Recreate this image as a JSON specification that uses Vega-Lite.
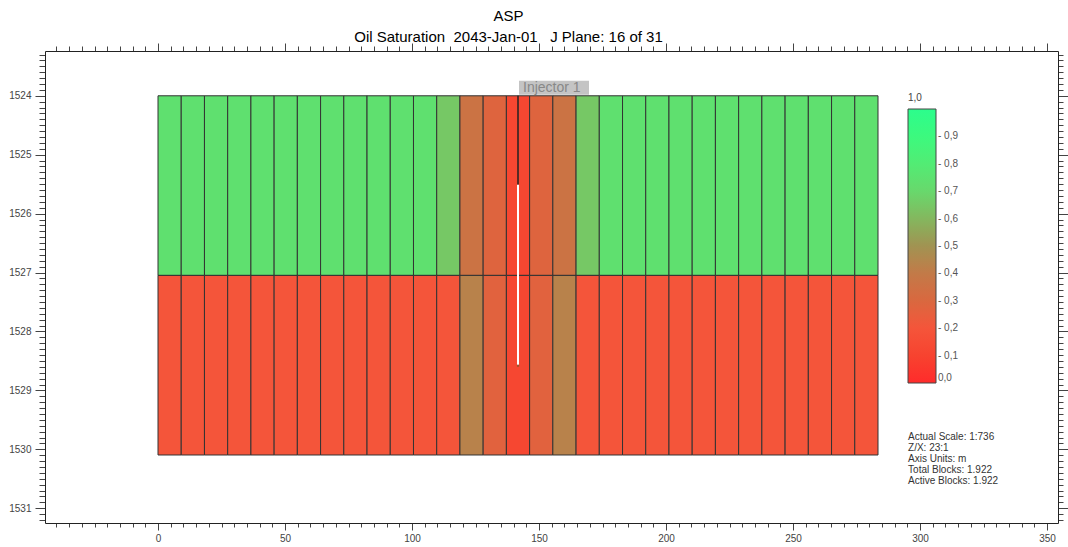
{
  "$schema": "https://vega.github.io/schema/vega-lite/v6.json",
  "autosize": "none",
  "width": 1013,
  "height": 472,
  "padding": {"left": 45, "top": 51, "right": 10, "bottom": 24},
  "background": "white",
  "config": {
    "font": "Liberation Sans",
    "view": {"stroke": null},
    "axis": {
      "labelFont": "Liberation Sans",
      "labelFontSize": 10,
      "labelColor": "#444",
      "tickColor": "#444",
      "domainColor": "#222",
      "grid": false,
      "title": null
    },
    "legend": {
      "labelFont": "Liberation Sans",
      "titleFont": "Liberation Sans"
    }
  },
  "title": {
    "text": "ASP",
    "subtitle": "Oil Saturation\u00a0 2043-Jan-01\u00a0\u00a0 J Plane: 16 of 31",
    "anchor": "middle",
    "frame": "group",
    "dx": -43,
    "offset": -2,
    "font": "Liberation Sans",
    "subtitleFont": "Liberation Sans",
    "fontSize": 15,
    "subtitleFontSize": 15,
    "fontWeight": "normal",
    "color": "#000",
    "subtitleColor": "#000",
    "subtitlePadding": 6
  },
  "datasets": {
    "cells": [
      {"col": 1, "x0": 0, "x1": 9.144, "z0": 1524, "z1": 1527.048, "so": 0.74},
      {"col": 2, "x0": 9.144, "x1": 18.288, "z0": 1524, "z1": 1527.048, "so": 0.74},
      {"col": 3, "x0": 18.288, "x1": 27.432, "z0": 1524, "z1": 1527.048, "so": 0.74},
      {"col": 4, "x0": 27.432, "x1": 36.576, "z0": 1524, "z1": 1527.048, "so": 0.74},
      {"col": 5, "x0": 36.576, "x1": 45.72, "z0": 1524, "z1": 1527.048, "so": 0.74},
      {"col": 6, "x0": 45.72, "x1": 54.864, "z0": 1524, "z1": 1527.048, "so": 0.74},
      {"col": 7, "x0": 54.864, "x1": 64.008, "z0": 1524, "z1": 1527.048, "so": 0.74},
      {"col": 8, "x0": 64.008, "x1": 73.152, "z0": 1524, "z1": 1527.048, "so": 0.74},
      {"col": 9, "x0": 73.152, "x1": 82.296, "z0": 1524, "z1": 1527.048, "so": 0.74},
      {"col": 10, "x0": 82.296, "x1": 91.44, "z0": 1524, "z1": 1527.048, "so": 0.74},
      {"col": 11, "x0": 91.44, "x1": 100.584, "z0": 1524, "z1": 1527.048, "so": 0.74},
      {"col": 12, "x0": 100.584, "x1": 109.728, "z0": 1524, "z1": 1527.048, "so": 0.74},
      {"col": 13, "x0": 109.728, "x1": 118.872, "z0": 1524, "z1": 1527.048, "so": 0.65},
      {"col": 14, "x0": 118.872, "x1": 128.016, "z0": 1524, "z1": 1527.048, "so": 0.36},
      {"col": 15, "x0": 128.016, "x1": 137.16, "z0": 1524, "z1": 1527.048, "so": 0.28},
      {"col": 16, "x0": 137.16, "x1": 146.304, "z0": 1524, "z1": 1527.048, "so": 0.12},
      {"col": 17, "x0": 146.304, "x1": 155.448, "z0": 1524, "z1": 1527.048, "so": 0.28},
      {"col": 18, "x0": 155.448, "x1": 164.592, "z0": 1524, "z1": 1527.048, "so": 0.36},
      {"col": 19, "x0": 164.592, "x1": 173.736, "z0": 1524, "z1": 1527.048, "so": 0.65},
      {"col": 20, "x0": 173.736, "x1": 182.88, "z0": 1524, "z1": 1527.048, "so": 0.74},
      {"col": 21, "x0": 182.88, "x1": 192.024, "z0": 1524, "z1": 1527.048, "so": 0.74},
      {"col": 22, "x0": 192.024, "x1": 201.168, "z0": 1524, "z1": 1527.048, "so": 0.74},
      {"col": 23, "x0": 201.168, "x1": 210.312, "z0": 1524, "z1": 1527.048, "so": 0.74},
      {"col": 24, "x0": 210.312, "x1": 219.456, "z0": 1524, "z1": 1527.048, "so": 0.74},
      {"col": 25, "x0": 219.456, "x1": 228.6, "z0": 1524, "z1": 1527.048, "so": 0.74},
      {"col": 26, "x0": 228.6, "x1": 237.744, "z0": 1524, "z1": 1527.048, "so": 0.74},
      {"col": 27, "x0": 237.744, "x1": 246.888, "z0": 1524, "z1": 1527.048, "so": 0.74},
      {"col": 28, "x0": 246.888, "x1": 256.032, "z0": 1524, "z1": 1527.048, "so": 0.74},
      {"col": 29, "x0": 256.032, "x1": 265.176, "z0": 1524, "z1": 1527.048, "so": 0.74},
      {"col": 30, "x0": 265.176, "x1": 274.32, "z0": 1524, "z1": 1527.048, "so": 0.74},
      {"col": 31, "x0": 274.32, "x1": 283.464, "z0": 1524, "z1": 1527.048, "so": 0.74},
      {"col": 1, "x0": 0, "x1": 9.144, "z0": 1527.048, "z1": 1530.096, "so": 0.2},
      {"col": 2, "x0": 9.144, "x1": 18.288, "z0": 1527.048, "z1": 1530.096, "so": 0.2},
      {"col": 3, "x0": 18.288, "x1": 27.432, "z0": 1527.048, "z1": 1530.096, "so": 0.2},
      {"col": 4, "x0": 27.432, "x1": 36.576, "z0": 1527.048, "z1": 1530.096, "so": 0.2},
      {"col": 5, "x0": 36.576, "x1": 45.72, "z0": 1527.048, "z1": 1530.096, "so": 0.2},
      {"col": 6, "x0": 45.72, "x1": 54.864, "z0": 1527.048, "z1": 1530.096, "so": 0.2},
      {"col": 7, "x0": 54.864, "x1": 64.008, "z0": 1527.048, "z1": 1530.096, "so": 0.2},
      {"col": 8, "x0": 64.008, "x1": 73.152, "z0": 1527.048, "z1": 1530.096, "so": 0.2},
      {"col": 9, "x0": 73.152, "x1": 82.296, "z0": 1527.048, "z1": 1530.096, "so": 0.2},
      {"col": 10, "x0": 82.296, "x1": 91.44, "z0": 1527.048, "z1": 1530.096, "so": 0.2},
      {"col": 11, "x0": 91.44, "x1": 100.584, "z0": 1527.048, "z1": 1530.096, "so": 0.2},
      {"col": 12, "x0": 100.584, "x1": 109.728, "z0": 1527.048, "z1": 1530.096, "so": 0.2},
      {"col": 13, "x0": 109.728, "x1": 118.872, "z0": 1527.048, "z1": 1530.096, "so": 0.2},
      {"col": 14, "x0": 118.872, "x1": 128.016, "z0": 1527.048, "z1": 1530.096, "so": 0.43},
      {"col": 15, "x0": 128.016, "x1": 137.16, "z0": 1527.048, "z1": 1530.096, "so": 0.27},
      {"col": 16, "x0": 137.16, "x1": 146.304, "z0": 1527.048, "z1": 1530.096, "so": 0.12},
      {"col": 17, "x0": 146.304, "x1": 155.448, "z0": 1527.048, "z1": 1530.096, "so": 0.27},
      {"col": 18, "x0": 155.448, "x1": 164.592, "z0": 1527.048, "z1": 1530.096, "so": 0.43},
      {"col": 19, "x0": 164.592, "x1": 173.736, "z0": 1527.048, "z1": 1530.096, "so": 0.2},
      {"col": 20, "x0": 173.736, "x1": 182.88, "z0": 1527.048, "z1": 1530.096, "so": 0.2},
      {"col": 21, "x0": 182.88, "x1": 192.024, "z0": 1527.048, "z1": 1530.096, "so": 0.2},
      {"col": 22, "x0": 192.024, "x1": 201.168, "z0": 1527.048, "z1": 1530.096, "so": 0.2},
      {"col": 23, "x0": 201.168, "x1": 210.312, "z0": 1527.048, "z1": 1530.096, "so": 0.2},
      {"col": 24, "x0": 210.312, "x1": 219.456, "z0": 1527.048, "z1": 1530.096, "so": 0.2},
      {"col": 25, "x0": 219.456, "x1": 228.6, "z0": 1527.048, "z1": 1530.096, "so": 0.2},
      {"col": 26, "x0": 228.6, "x1": 237.744, "z0": 1527.048, "z1": 1530.096, "so": 0.2},
      {"col": 27, "x0": 237.744, "x1": 246.888, "z0": 1527.048, "z1": 1530.096, "so": 0.2},
      {"col": 28, "x0": 246.888, "x1": 256.032, "z0": 1527.048, "z1": 1530.096, "so": 0.2},
      {"col": 29, "x0": 256.032, "x1": 265.176, "z0": 1527.048, "z1": 1530.096, "so": 0.2},
      {"col": 30, "x0": 265.176, "x1": 274.32, "z0": 1527.048, "z1": 1530.096, "so": 0.2},
      {"col": 31, "x0": 274.32, "x1": 283.464, "z0": 1527.048, "z1": 1530.096, "so": 0.2}
    ],
    "wells": [
      {"well": "Injector 1", "x": 141.732, "top": 1524, "perf": 1525.51, "bottom": 1528.58}
    ],
    "info": [
      {"x": 295.3, "z": 1529.7, "text": "Actual Scale: 1:736\nZ/X: 23:1\nAxis Units: m\nTotal Blocks: 1.922\nActive Blocks: 1.922"}
    ]
  },
  "resolve": {"axis": {"x": "independent", "y": "independent"}},
  "layer": [
    {
      "data": {"name": "cells"},
      "mark": {"type": "rect", "stroke": "#333", "strokeWidth": 1},
      "encoding": {
        "x": {
          "field": "x0", "type": "quantitative",
          "scale": {"domain": [-44.49, 354.33], "nice": false, "zero": false},
          "axis": {
            "orient": "bottom",
            "values": [-40,-35,-30,-25,-20,-15,-10,-5,0,5,10,15,20,25,30,35,40,45,50,55,60,65,70,75,80,85,90,95,100,105,110,115,120,125,130,135,140,145,150,155,160,165,170,175,180,185,190,195,200,205,210,215,220,225,230,235,240,245,250,255,260,265,270,275,280,285,290,295,300,305,310,315,320,325,330,335,340,345,350],
            "labelExpr": "datum.value % 50 === 0 ? datum.label : ''",
            "tickSize": {"condition": {"test": "datum.value % 50 === 0", "value": 7}, "value": 4},
            "labelPadding": 3,
            "labelFlush": false,
            "labelOverlap": false
          }
        },
        "x2": {"field": "x1"},
        "y": {
          "field": "z0", "type": "quantitative",
          "scale": {"domain": [1523.24, 1531.25], "reverse": true, "nice": false, "zero": false},
          "axis": {
            "orient": "left",
            "values": [1523.3,1523.4,1523.5,1523.6,1523.7,1523.8,1523.9,1524,1524.1,1524.2,1524.3,1524.4,1524.5,1524.6,1524.7,1524.8,1524.9,1525,1525.1,1525.2,1525.3,1525.4,1525.5,1525.6,1525.7,1525.8,1525.9,1526,1526.1,1526.2,1526.3,1526.4,1526.5,1526.6,1526.7,1526.8,1526.9,1527,1527.1,1527.2,1527.3,1527.4,1527.5,1527.6,1527.7,1527.8,1527.9,1528,1528.1,1528.2,1528.3,1528.4,1528.5,1528.6,1528.7,1528.8,1528.9,1529,1529.1,1529.2,1529.3,1529.4,1529.5,1529.6,1529.7,1529.8,1529.9,1530,1530.1,1530.2,1530.3,1530.4,1530.5,1530.6,1530.7,1530.8,1530.9,1531,1531.1,1531.2],
            "labelExpr": "abs(datum.value - round(datum.value)) < 0.01 ? '' + round(datum.value) : ''",
            "tickSize": {"condition": {"test": "abs(datum.value - round(datum.value)) < 0.01", "value": 10}, "value": 6},
            "labelPadding": 4,
            "labelFlush": false,
            "labelOverlap": false
          }
        },
        "y2": {"field": "z1"},
        "color": {
          "field": "so", "type": "quantitative",
          "scale": {
            "domain": [0, 0.1, 0.2, 0.3, 0.4, 0.5, 0.6, 0.7, 0.8, 0.9, 1],
            "range": ["#ff2b2b", "#f7432f", "#f4553a", "#d9683f", "#c27a48", "#a19352", "#84b75e", "#68d86c", "#52ec74", "#3cf97e", "#2cfd8c"],
            "interpolate": "rgb"
          },
          "legend": {
            "orient": "none",
            "direction": "vertical",
            "legendX": 863,
            "legendY": 42,
            "padding": 0,
            "title": "1,0",
            "titleFontSize": 10,
            "titleFontWeight": "normal",
            "titleColor": "#444",
            "titlePadding": 6,
            "gradientLength": 274,
            "gradientThickness": 28,
            "gradientStrokeColor": "#444",
            "gradientStrokeWidth": 1,
            "values": [0, 0.1, 0.2, 0.3, 0.4, 0.5, 0.6, 0.7, 0.8, 0.9],
            "labelExpr": "datum.value < 0.05 ? '0,0' : '- ' + replace(format(datum.value, '.1f'), '.', ',')",
            "labelFontSize": 10,
            "labelColor": "#555",
            "labelOffset": 2,
            "labelOverlap": false
          }
        }
      }
    },
    {
      "data": {"name": "wells"},
      "mark": {"type": "rule", "color": "#222", "strokeWidth": 1.5},
      "encoding": {
        "x": {
          "field": "x", "type": "quantitative",
          "scale": {"domain": [-44.49, 354.33], "nice": false, "zero": false},
          "axis": {
            "orient": "top",
            "values": [-40,-35,-30,-25,-20,-15,-10,-5,0,5,10,15,20,25,30,35,40,45,50,55,60,65,70,75,80,85,90,95,100,105,110,115,120,125,130,135,140,145,150,155,160,165,170,175,180,185,190,195,200,205,210,215,220,225,230,235,240,245,250,255,260,265,270,275,280,285,290,295,300,305,310,315,320,325,330,335,340,345,350],
            "labels": false,
            "tickSize": {"condition": {"test": "datum.value % 50 === 0", "value": 8}, "value": 5}
          }
        },
        "y": {
          "field": "top", "type": "quantitative",
          "scale": {"domain": [1523.24, 1531.25], "reverse": true, "nice": false, "zero": false},
          "axis": {
            "orient": "right",
            "values": [1523.3,1523.4,1523.5,1523.6,1523.7,1523.8,1523.9,1524,1524.1,1524.2,1524.3,1524.4,1524.5,1524.6,1524.7,1524.8,1524.9,1525,1525.1,1525.2,1525.3,1525.4,1525.5,1525.6,1525.7,1525.8,1525.9,1526,1526.1,1526.2,1526.3,1526.4,1526.5,1526.6,1526.7,1526.8,1526.9,1527,1527.1,1527.2,1527.3,1527.4,1527.5,1527.6,1527.7,1527.8,1527.9,1528,1528.1,1528.2,1528.3,1528.4,1528.5,1528.6,1528.7,1528.8,1528.9,1529,1529.1,1529.2,1529.3,1529.4,1529.5,1529.6,1529.7,1529.8,1529.9,1530,1530.1,1530.2,1530.3,1530.4,1530.5,1530.6,1530.7,1530.8,1530.9,1531,1531.1,1531.2],
            "labels": false,
            "tickSize": {"condition": {"test": "abs(datum.value - round(datum.value)) < 0.01", "value": 10}, "value": 5}
          }
        },
        "y2": {"field": "perf"}
      }
    },
    {
      "data": {"name": "wells"},
      "mark": {"type": "rule", "color": "#ffffff", "strokeWidth": 2},
      "encoding": {
        "x": {"field": "x", "type": "quantitative", "axis": null},
        "y": {"field": "perf", "type": "quantitative", "axis": null},
        "y2": {"field": "bottom"}
      }
    },
    {
      "data": {"name": "wells"},
      "mark": {"type": "point", "filled": true, "size": 6, "color": "#a0522d", "opacity": 1},
      "encoding": {
        "x": {"field": "x", "type": "quantitative", "axis": null},
        "y": {"field": "bottom", "type": "quantitative", "axis": null}
      }
    },
    {
      "data": {"name": "wells"},
      "mark": {"type": "rect", "color": "#c4c4c4", "opacity": 1, "x2Offset": 71, "xOffset": 1, "yOffset": -15, "y2Offset": -1},
      "encoding": {
        "x": {"field": "x", "type": "quantitative", "axis": null},
        "x2": {"field": "x"},
        "y": {"field": "top", "type": "quantitative", "axis": null},
        "y2": {"field": "top"}
      }
    },
    {
      "data": {"name": "wells"},
      "mark": {"type": "text", "align": "left", "baseline": "bottom", "dx": 5, "dy": -1, "fontSize": 14, "color": "#888", "font": "Liberation Sans"},
      "encoding": {
        "x": {"field": "x", "type": "quantitative", "axis": null},
        "y": {"field": "top", "type": "quantitative", "axis": null},
        "text": {"field": "well"}
      }
    },
    {
      "data": {"name": "info"},
      "mark": {"type": "text", "align": "left", "baseline": "top", "lineBreak": "\n", "lineHeight": 11.2, "fontSize": 10, "color": "#333", "font": "Liberation Sans"},
      "encoding": {
        "x": {"field": "x", "type": "quantitative", "axis": null},
        "y": {"field": "z", "type": "quantitative", "axis": null},
        "text": {"field": "text"}
      }
    }
  ]
}
